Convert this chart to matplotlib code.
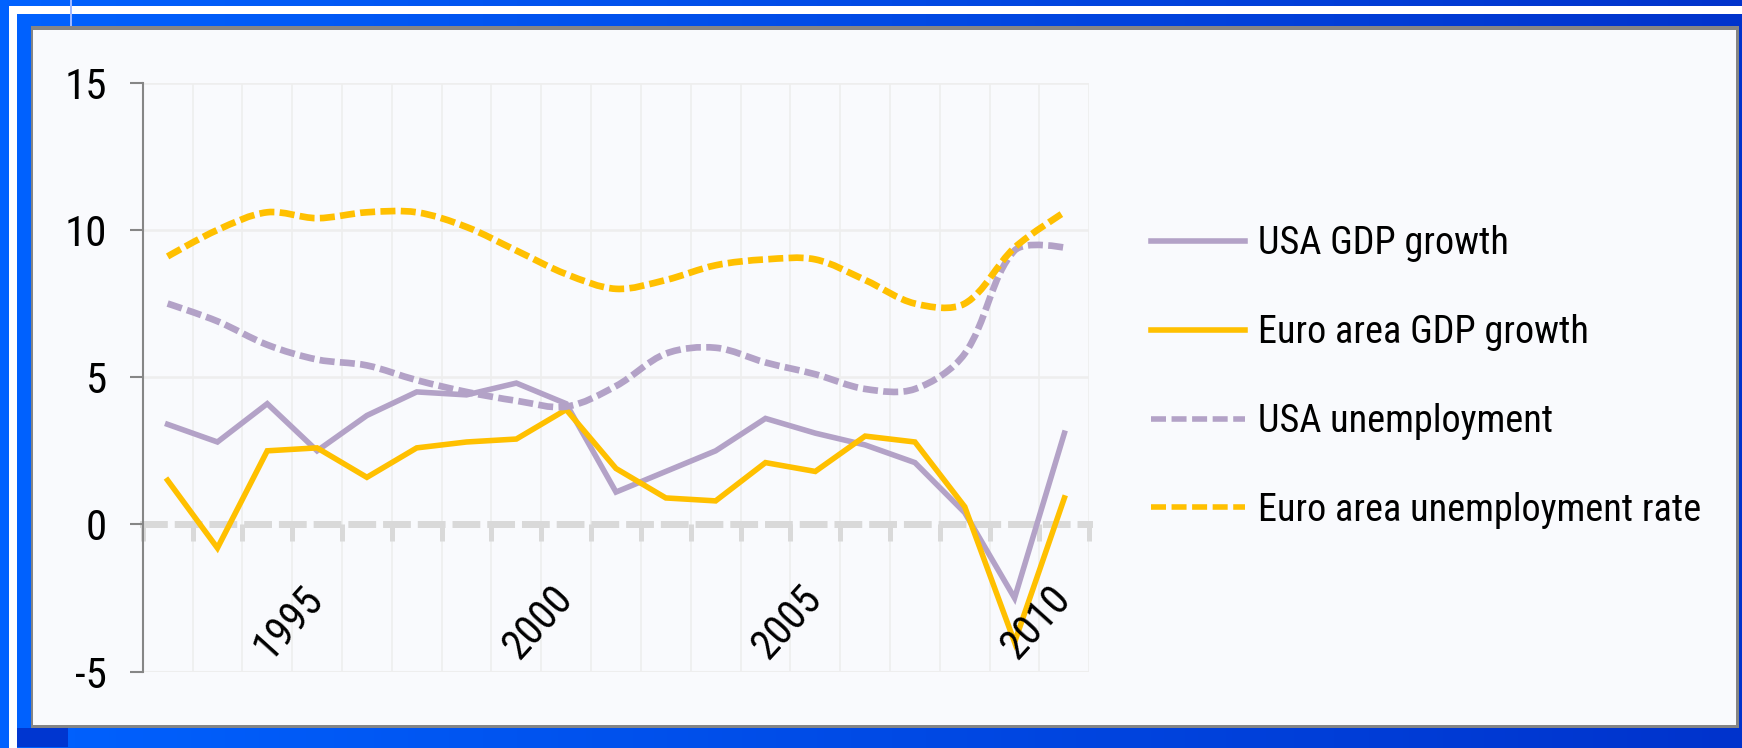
import numpy as np
import matplotlib
matplotlib.use("Agg")
import matplotlib.pyplot as plt
from matplotlib.path import Path
from matplotlib.patches import PathPatch, Rectangle
from matplotlib.lines import Line2D
from matplotlib import font_manager as fm

# ---------------- data ----------------
years = list(range(1992, 2011))
usa_gdp = [3.4, 2.8, 4.1, 2.5, 3.7, 4.5, 4.4, 4.8, 4.1, 1.1, 1.8, 2.5, 3.6, 3.1, 2.7, 2.1, 0.4, -2.5, 3.1]
euro_gdp = [1.5, -0.8, 2.5, 2.6, 1.6, 2.6, 2.8, 2.9, 3.9, 1.9, 0.9, 0.8, 2.1, 1.8, 3.0, 2.8, 0.6, -4.0, 0.9]
usa_unemp = [7.5, 6.9, 6.1, 5.6, 5.4, 4.9, 4.5, 4.2, 4.0, 4.7, 5.8, 6.0, 5.5, 5.1, 4.6, 4.6, 5.8, 9.3, 9.4]
euro_unemp = [9.1, 10.0, 10.6, 10.4, 10.6, 10.6, 10.1, 9.3, 8.5, 8.0, 8.3, 8.8, 9.0, 9.0, 8.3, 7.5, 7.5, 9.4, 10.6]
series_labels = ["USA GDP growth", "Euro area GDP growth", "USA unemployment", "Euro area unemployment rate"]
year_labels = ["1995", "2000", "2005", "2010"]
y_ticks = [-5, 0, 5, 10, 15]

# ---------------- style ----------------
PURPLE = "#b3a2c7"
GOLD = "#ffc000"
names = {f.name for f in fm.fontManager.ttflist}
FONT = "DejaVu Sans"
for cand in ["Liberation Sans Narrow", "Roboto Condensed", "Open Sans Condensed", "Liberation Sans"]:
    if cand in names:
        FONT = cand
        break
plt.rcParams["font.family"] = [FONT, "DejaVu Sans"]

W, H = 1742, 748
fig = plt.figure(figsize=(W / 100, H / 100), dpi=100)


def fx(px):
    return px / W


def fy(py):
    return 1 - py / H


# background with gradient blue
bg = fig.add_axes([0, 0, 1, 1], zorder=-10)
grad = np.linspace(0, 1, 256)
c0 = np.array([0x00, 0x62, 0xff]) / 255
c1 = np.array([0x00, 0x33, 0xcc]) / 255
img = (c0[None, :] * (1 - grad[:, None]) + c1[None, :] * grad[:, None])[None, :, :]
bg.imshow(img, extent=[0, 1, 0, 1], aspect="auto", transform=bg.transAxes)
bg.set_xlim(0, 1)
bg.set_ylim(0, 1)
bg.axis("off")


def prect(x0, y0, x1, y1, color, z=1):
    bg.add_patch(Rectangle((fx(x0), fy(y1)), fx(x1) - fx(x0), fy(y0) - fy(y1),
                           facecolor=color, edgecolor="none", zorder=z, transform=bg.transAxes))


prect(9.3, 6, W, 14, "white", 2)            # top white stripe
prect(9.3, 6, 17.3, H, "white", 2)          # left white stripe
prect(17.3, 728, 68, 747, "#0036d0", 2)     # darker corner block
prect(70, 0, 72, 26, "#9fb8ff", 2)          # thin decorative line
prect(30.7, 26, 1738.7, 728, "#858585", 3)  # panel border
prect(33.3, 30, 1736.3, 725, "#f9fafd", 4)  # panel

# ---------------- main axes ----------------
L, R, T, B = 142.7, 1089.3, 82.7, 671.7
ax = fig.add_axes([fx(L), fy(B), fx(R) - fx(L), fy(T) - fy(B)])
ax.set_facecolor("none")
ax.set_xlim(years[0] - 0.5, years[-1] + 0.5)
ax.set_ylim(-5, 15)
# pixel aspect: px per year / px per unit
px_per_year = (R - L) / len(years)
px_per_unit = (B - T) / 20.0

# grid lines
for yv in [5, 10, 15]:
    ax.axhline(yv, color="#eeeeee", lw=1.8, zorder=0.5)
ax.axhline(-5, color="#eeeeee", lw=1.5, zorder=0.5)
bounds = np.arange(years[0] - 0.5, years[-1] + 1.0, 1.0)
for xb in bounds[1:]:
    ax.axvline(xb, color="#eeeeee", lw=1.2, zorder=0.5)

# spines
for s in ["top", "right"]:
    ax.spines[s].set_visible(False)
ax.spines["left"].set_color("#868686")
ax.spines["left"].set_linewidth(1.5)
ax.spines["bottom"].set_position(("data", 0))
ax.spines["bottom"].set_color("#d9d9d9")
ax.spines["bottom"].set_linewidth(5)
ax.spines["bottom"].set_linestyle((0, (3.0, 2.0)))
ax.spines["bottom"].set_zorder(1.5)

ax.set_yticks(y_ticks)
ax.set_yticklabels([str(v) for v in y_ticks])
ax.tick_params(axis="y", direction="out", length=9.6, width=1.5, color="#868686",
               pad=16, labelsize=31, labelcolor="black")
ax.set_xticks(bounds)
ax.set_xticklabels([])
ax.tick_params(axis="x", direction="out", length=12, width=3.6, color="#d9d9d9")

# solid GDP lines
ax.plot(years, usa_gdp, color=PURPLE, lw=4.0, zorder=3, solid_joinstyle="miter")
ax.plot(years, euro_gdp, color=GOLD, lw=4.0, zorder=3.1, solid_joinstyle="miter")


def smooth_path(xs, ys):
    """Smoothed line through the data points (cubic Bezier, chord-weighted tangents)."""
    P = np.column_stack([xs, ys]).astype(float)
    n = len(P)
    scale = np.array([px_per_year, px_per_unit])

    def dist(a, b):
        return float(np.hypot(*((b - a) * scale)))

    verts = [P[0]]
    codes = [Path.MOVETO]
    for i in range(n - 1):
        pm = P[i - 1] if i > 0 else P[i]
        pp = P[i + 2] if i + 2 < n else P[i + 1]
        d_prev = dist(pm, P[i])
        d_cur = dist(P[i], P[i + 1])
        d_next = dist(P[i + 1], pp)
        f1 = d_cur / (d_prev + d_cur) / 3.0 if d_prev > 0 else 0.0
        f2 = d_cur / (d_cur + d_next) / 3.0 if d_next > 0 else 0.0
        c1 = P[i] + (P[i + 1] - pm) * f1
        c2 = P[i + 1] - (pp - P[i]) * f2
        verts += [c1, c2, P[i + 1]]
        codes += [Path.CURVE4] * 3
    return Path(verts, codes)


dash = (0, (2.25, 0.8))
ax.add_patch(PathPatch(smooth_path(years, usa_unemp), fill=False, edgecolor=PURPLE,
                       lw=4.8, linestyle=dash, capstyle="butt", zorder=3.2))
ax.add_patch(PathPatch(smooth_path(years, euro_unemp), fill=False, edgecolor=GOLD,
                       lw=4.8, linestyle=dash, capstyle="butt", zorder=3.3))

# year labels (inside plot area near bottom)
for lab in year_labels:
    ax.text(int(lab) + 0.3, -4.84, lab, rotation=48, ha="right", va="bottom",
            fontsize=30, color="black", zorder=4)

# legend
handles = [
    Line2D([], [], color=PURPLE, lw=4.0),
    Line2D([], [], color=GOLD, lw=4.0),
    Line2D([], [], color=PURPLE, lw=4.0, linestyle=(0, (2.7, 1.0))),
    Line2D([], [], color=GOLD, lw=4.0, linestyle=(0, (2.7, 1.0))),
]
leg = fig.legend(handles, series_labels, loc="upper left",
                 bbox_to_anchor=(fx(1151), fy(225)), frameon=False,
                 fontsize=27.5, handlelength=2.45, handletextpad=0.35,
                 labelspacing=1.36, borderpad=0, borderaxespad=0)

fig.savefig("out.png", dpi=100)
